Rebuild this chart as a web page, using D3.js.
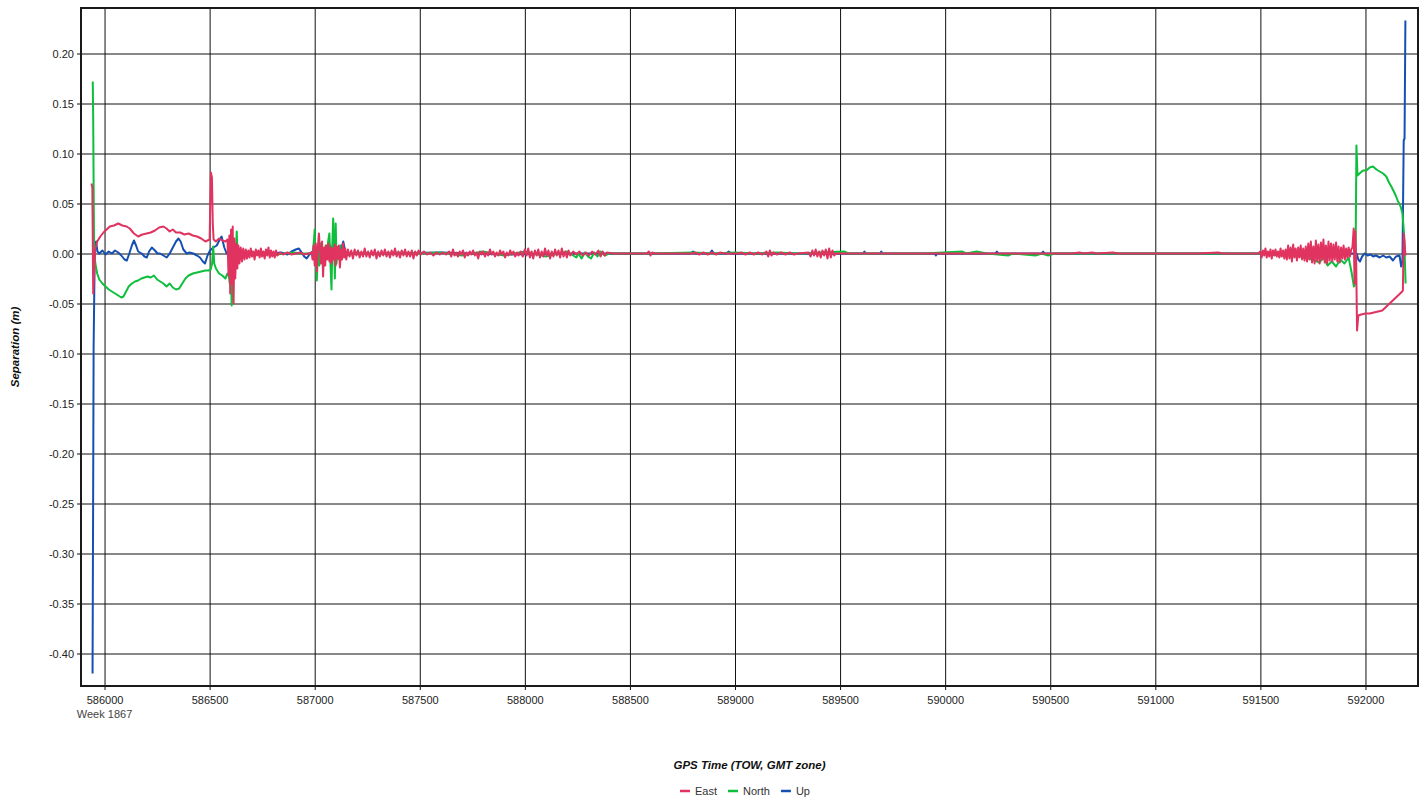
<!DOCTYPE html>
<html>
<head>
<meta charset="utf-8">
<script src="https://cdn.jsdelivr.net/npm/d3@7"></script>
<style>
  body { margin: 0; background: #fff; }
  svg { display: block; font-family: "Liberation Sans", Arial, sans-serif; }
  .tick text { font-size: 11px; fill: #222; }
  .axisTitle { font-size: 11.5px; font-weight: bold; font-style: italic; fill: #111; }
  .legendText { font-size: 11px; fill: #333; }
</style>
</head>
<body>
<div id="chart"></div>
<script>
// series names / colours for the legend
const seriesNames = ["East", "North", "Up"];
const xTicks = [586000, 586500, 587000, 587500, 588000, 588500, 589000, 589500, 590000, 590500, 591000, 591500, 592000];
const yTicks = [-0.40, -0.35, -0.30, -0.25, -0.20, -0.15, -0.10, -0.05, 0.00, 0.05, 0.10, 0.15, 0.20];
const weekLabel = "Week 1867";

// [GPS time (s), separation (m)]
const east = [
  [585938,0.070],[585942,0.066],[585946,-0.040],[585950,-0.022],[585955,0.004],[585965,0.012],[585980,0.017],[585995,0.021],
  [586010,0.024],[586025,0.027],[586045,0.028],[586065,0.030],[586085,0.028],[586105,0.027],[586120,0.025],[586140,0.020],
  [586160,0.017],[586180,0.019],[586200,0.020],[586220,0.021],[586240,0.023],[586260,0.026],[586280,0.027],[586295,0.025],
  [586310,0.022],[586325,0.024],[586340,0.021],[586360,0.021],[586380,0.019],[586400,0.020],[586420,0.018],[586440,0.017],
  [586460,0.015],[586480,0.012],[586500,0.014],[586506,0.081],[586511,0.076],[586515,0.030],[586519,0.014],[586530,0.012],
  [586545,0.015],[586560,0.013],[586575,0.012],[586585,0.014],
  [586590,-0.022],[586594,0.018],[586598,-0.040],[586602,0.024],[586606,-0.030],[586610,0.027],[586614,-0.050],[586618,0.015],
  [586622,-0.025],[586627,0.010],[586632,-0.015],[586637,0.008],[586642,-0.010],[586648,0.006],[586654,-0.008],[586660,0.005],
  [586666,-0.006],[586672,0.004],[586678,-0.005],[586684,0.003],[586690,-0.004],[586696,0.005],[586702,-0.003],[586708,0.002],
  [586714,-0.006],[586720,0.004],[586726,-0.002],[586732,0.003],[586738,-0.004],[586744,0.005],[586750,-0.003],[586756,0.002],
  [586762,-0.005],[586768,0.004],[586774,-0.002],[586780,0.006],[586786,-0.004],[586792,0.003],[586798,-0.003],[586804,0.002],
  [586810,-0.004],[586816,0.003],[586822,-0.002],[586835,0.001],[586850,-0.001],[586870,0.001],[586890,-0.001],[586910,0.000],
  [586930,0.001],[586950,-0.001],[586970,0.000],[586985,0.001],
  [586990,-0.006],[586995,0.008],[587000,-0.012],[587005,0.010],[587010,-0.018],[587015,0.006],[587020,0.020],[587025,0.004],
  [587030,-0.010],[587035,0.012],[587040,-0.023],[587045,0.006],[587050,-0.012],[587055,0.008],[587060,-0.006],[587065,0.010],
  [587070,-0.008],[587075,0.006],[587080,-0.010],[587085,0.005],[587090,-0.006],[587095,0.009],[587100,-0.012],[587105,0.007],
  [587110,-0.005],[587115,0.008],[587120,-0.014],[587125,0.004],[587130,-0.006],[587135,0.010],[587140,-0.004],[587145,0.005],
  [587150,-0.006],[587158,0.004],[587166,-0.003],[587174,0.003],[587182,-0.005],[587190,0.004],[587198,-0.002],[587206,0.003],
  [587214,-0.004],[587222,0.002],[587230,-0.003],[587238,0.005],[587246,-0.003],[587254,0.002],[587262,-0.004],[587270,0.003],
  [587278,-0.002],[587286,0.004],[587294,-0.005],[587302,0.002],[587310,-0.003],[587318,0.003],[587326,-0.002],[587334,0.004],
  [587342,-0.003],[587350,0.002],[587358,-0.004],[587366,0.003],[587374,-0.002],[587382,0.005],[587390,-0.003],[587398,0.002],
  [587406,-0.004],[587414,0.003],[587422,-0.002],[587430,0.004],[587438,-0.003],[587446,0.002],[587454,-0.003],[587462,0.003],
  [587470,-0.005],[587478,0.002],[587486,-0.002],[587494,0.003],
  [587505,-0.001],[587520,0.002],[587535,-0.001],[587550,0.001],[587565,-0.002],[587580,0.001],[587595,-0.001],[587610,0.001],
  [587625,-0.001],[587640,0.002],[587650,-0.003],[587658,0.004],[587666,-0.002],[587674,0.001],[587682,-0.003],[587690,0.002],
  [587698,-0.001],[587706,0.003],[587714,-0.004],[587722,0.001],[587730,-0.002],[587738,0.002],[587746,-0.001],[587754,0.003],
  [587762,-0.002],[587770,0.001],[587778,-0.005],[587786,0.002],[587794,-0.001],[587802,0.002],[587810,-0.003],[587818,0.001],
  [587826,-0.002],[587834,0.004],[587842,-0.001],[587850,0.002],[587858,-0.003],[587866,0.001],[587874,-0.002],[587882,0.003],
  [587890,-0.001],[587898,0.002],[587906,-0.004],[587914,0.001],[587922,-0.002],[587930,0.003],[587938,-0.001],[587946,0.002],
  [587954,-0.003],[587962,0.001],[587970,-0.002],[587980,0.002],[587990,-0.003],[588000,0.004],[588008,-0.002],[588016,0.005],
  [588024,-0.004],[588032,0.002],[588040,-0.005],[588048,0.003],[588056,-0.002],[588064,0.004],[588072,-0.004],[588080,0.002],
  [588088,-0.003],[588096,0.005],[588104,-0.002],[588112,0.003],[588120,-0.005],[588128,0.002],[588136,-0.003],[588144,0.004],
  [588152,-0.002],[588160,0.003],[588168,-0.004],[588176,0.005],[588184,-0.003],[588192,0.002],[588200,-0.004],[588208,0.003],
  [588216,-0.002],[588230,0.002],[588245,-0.001],[588260,0.002],[588275,-0.002],[588290,0.001],[588305,-0.002],[588320,0.002],
  [588335,-0.001],[588350,0.003],[588360,-0.003],[588370,0.002],[588380,-0.002],[588390,0.001],
  [588420,0.000],[588500,0.000],[588580,0.000],[588590,0.002],[588598,-0.002],[588606,0.001],[588620,0.000],[588720,0.000],
  [588800,0.000],[588810,0.001],[588830,-0.001],[588850,0.001],[588870,-0.001],[588890,0.001],[588910,-0.001],[588930,0.001],
  [588950,0.000],[589020,0.000],[589030,0.001],[589050,-0.001],[589070,0.001],[589090,-0.001],[589110,0.001],[589130,-0.001],
  [589150,0.002],[589158,-0.003],[589166,0.003],[589174,-0.002],[589182,0.001],[589200,-0.001],[589220,0.001],[589240,-0.001],
  [589260,0.001],[589280,-0.001],[589300,0.000],[589350,0.001],[589360,-0.003],[589368,0.003],[589376,-0.002],[589384,0.004],
  [589392,-0.003],[589400,0.002],[589408,-0.004],[589416,0.003],[589424,-0.002],[589432,0.004],[589440,-0.005],[589448,0.005],
  [589456,-0.004],[589464,0.003],[589472,-0.002],[589480,0.000],
  [589600,0.000],[589800,0.000],[590000,0.000],[590200,0.000],[590400,0.000],[590600,0.000],[590640,0.001],[590660,0.000],
  [590700,0.001],[590720,0.000],[590800,0.001],[590820,0.000],[591000,0.000],[591200,0.000],[591300,0.001],[591320,0.000],
  [591490,0.000],
  [591500,0.002],[591506,-0.004],[591512,0.003],[591518,-0.002],[591524,0.005],[591530,-0.004],[591536,0.002],[591542,-0.003],
  [591548,0.004],[591554,-0.005],[591560,0.003],[591566,-0.002],[591572,0.004],[591578,-0.003],[591584,0.002],[591590,-0.004],
  [591596,0.005],[591602,-0.003],[591608,0.003],[591614,-0.005],[591620,0.004],[591626,-0.006],[591632,0.008],[591638,-0.005],
  [591644,0.006],[591650,-0.008],[591656,0.009],[591662,-0.004],[591668,0.005],[591674,-0.007],[591680,0.006],[591686,-0.004],
  [591692,0.008],[591698,-0.006],[591704,0.005],[591710,-0.007],[591716,0.007],[591722,-0.008],[591728,0.010],[591734,-0.006],
  [591740,0.012],[591746,-0.009],[591752,0.007],[591758,-0.010],[591764,0.013],[591770,-0.007],[591776,0.009],[591782,-0.010],
  [591788,0.011],[591794,-0.006],[591800,0.014],[591806,-0.009],[591812,0.008],[591818,-0.010],[591824,0.012],[591830,-0.007],
  [591836,0.010],[591842,-0.008],[591848,0.009],[591854,-0.006],[591860,0.011],[591866,-0.008],[591872,0.007],[591878,-0.009],
  [591884,0.006],[591890,-0.005],[591896,0.008],[591902,-0.006],[591908,0.005],[591914,-0.004],[591920,0.006],[591926,-0.003],
  [591932,0.004],[591938,0.006],[591944,0.025],[591948,-0.030],[591952,0.022],[591956,-0.010],[591960,-0.077],[591966,-0.062],
  [591980,-0.061],[592000,-0.060],[592020,-0.060],[592040,-0.059],[592060,-0.058],[592080,-0.057],[592095,-0.054],[592110,-0.051],
  [592125,-0.048],[592140,-0.045],[592155,-0.042],[592170,-0.039],[592178,-0.037],[592182,0.020],[592186,0.012],[592190,-0.002]
];

const north = [
  [585944,0.172],[585946,0.135],[585950,0.010],[585953,-0.005],[585958,-0.012],[585965,-0.020],[585975,-0.026],[585990,-0.030],
  [586005,-0.033],[586020,-0.036],[586035,-0.038],[586050,-0.040],[586065,-0.042],[586080,-0.044],[586090,-0.043],[586100,-0.039],
  [586115,-0.033],[586130,-0.030],[586145,-0.028],[586160,-0.027],[586175,-0.025],[586190,-0.024],[586205,-0.023],[586220,-0.024],
  [586235,-0.022],[586250,-0.026],[586265,-0.028],[586280,-0.030],[586295,-0.033],[586310,-0.030],[586325,-0.034],[586340,-0.036],
  [586355,-0.035],[586370,-0.030],[586385,-0.025],[586400,-0.022],[586420,-0.020],[586440,-0.019],[586460,-0.018],[586480,-0.017],
  [586495,-0.017],[586505,-0.016],[586512,-0.010],[586517,0.007],[586522,-0.010],[586530,-0.015],[586545,-0.020],[586560,-0.022],
  [586575,-0.025],[586585,-0.020],
  [586590,-0.020],[586596,-0.030],[586600,-0.010],[586605,-0.052],[586610,-0.030],[586616,0.005],[586622,-0.015],[586629,0.022],
  [586634,-0.008],[586640,0.004],[586648,-0.005],[586656,0.003],[586664,-0.003],[586700,0.002],[586740,-0.002],[586780,0.001],
  [586820,-0.001],[586860,0.000],[586900,0.001],[586940,0.000],[586975,0.000],
  [586990,0.000],[586996,0.012],[587000,0.024],[587004,-0.005],[587010,-0.027],[587016,0.006],[587022,-0.012],[587028,0.010],
  [587034,-0.008],[587040,0.005],[587046,-0.010],[587052,0.008],[587058,-0.005],[587064,0.012],[587070,0.020],[587075,-0.010],
  [587080,-0.036],[587084,0.010],[587088,0.035],[587092,0.012],[587096,-0.025],[587100,0.030],[587104,-0.010],[587110,0.006],
  [587116,-0.006],[587122,0.008],[587130,-0.004],[587140,0.004],[587150,-0.002],
  [587200,0.001],[587300,-0.001],[587400,0.001],[587500,0.000],[587600,0.001],[587700,-0.002],[587800,0.002],[587900,-0.002],
  [588000,0.002],[588100,-0.003],[588200,0.002],[588230,-0.002],[588245,-0.004],[588255,0.000],[588270,-0.005],[588285,0.001],
  [588300,-0.003],[588315,-0.005],[588330,0.001],[588345,-0.003],[588360,0.002],[588380,-0.002],[588400,0.000],[588600,0.000],
  [588800,0.001],[588900,0.000],[589000,0.001],[589100,0.000],[589200,0.001],[589300,0.000],[589400,0.001],[589520,0.002],
  [589540,0.000],[589700,0.000],[589900,0.000],[590080,0.002],[590100,0.000],[590150,0.002],[590200,0.000],[590300,-0.002],
  [590320,0.000],[590430,-0.002],[590460,0.000],[590490,-0.002],[590520,0.000],[591000,0.000],[591500,0.000],[591600,-0.002],
  [591650,0.003],[591700,-0.004],[591750,-0.006],[591780,-0.009],[591800,-0.004],[591820,-0.012],[591840,-0.008],[591860,-0.013],
  [591880,-0.006],[591900,-0.010],[591920,-0.004],[591935,-0.020],[591945,-0.033],[591952,-0.030],
  [591957,0.108],[591962,0.078],[591972,0.080],[591988,0.083],[592004,0.083],[592020,0.086],[592036,0.087],[592052,0.084],
  [592068,0.082],[592084,0.080],[592099,0.077],[592112,0.071],[592123,0.067],[592135,0.062],[592146,0.057],[592155,0.052],
  [592162,0.050],[592170,0.045],[592176,0.040],[592180,0.030],[592184,0.018],[592188,-0.010],[592191,-0.030]
];

const up = [
  [585943,-0.420],[585946,-0.230],[585948,-0.095],[585951,-0.040],[585954,0.005],[585960,0.012],[585966,0.002],[585975,0.000],
  [585990,0.003],[586005,-0.001],[586020,0.002],[586035,0.000],[586050,0.003],[586065,0.001],[586080,-0.002],[586095,-0.006],
  [586106,-0.007],[586118,0.000],[586130,0.008],[586140,0.013],[586150,0.008],[586160,0.002],[586177,0.000],[586190,-0.003],
  [586201,-0.004],[586212,0.002],[586225,0.006],[586240,0.003],[586252,0.000],[586264,0.000],[586280,-0.002],[586296,-0.004],
  [586310,0.000],[586325,0.006],[586340,0.012],[586352,0.015],[586362,0.012],[586375,0.004],[586391,0.000],[586405,0.001],
  [586422,0.000],[586440,-0.002],[586454,-0.004],[586468,-0.008],[586478,-0.010],[586490,-0.002],[586502,0.003],[586518,0.006],
  [586534,0.008],[586548,0.014],[586557,0.017],[586570,0.006],[586581,0.000],
  [586600,0.002],[586640,-0.002],[586680,0.001],[586720,-0.001],[586760,0.001],[586800,0.000],[586840,0.001],[586870,-0.001],
  [586890,0.002],[586910,0.004],[586925,0.005],[586938,0.001],[586950,-0.003],[586962,-0.005],[586975,-0.001],[586990,0.002],
  [587010,-0.003],[587030,0.004],[587050,-0.004],[587073,0.008],[587090,0.002],[587110,0.006],[587125,0.004],[587136,0.012],
  [587145,0.002],[587160,0.000],[587300,0.000],[587600,0.001],[587900,-0.001],[588200,0.000],[588500,0.000],[588790,0.000],
  [588800,0.002],[588810,0.000],[588880,0.000],[588890,0.003],[588900,0.000],[588960,0.000],[588970,0.002],[588980,0.000],
  [589200,0.000],[589610,0.000],[589616,0.002],[589622,0.000],[589690,0.000],[589696,0.002],[589702,0.000],[589950,0.000],
  [589956,-0.002],[589962,0.000],[590240,0.000],[590246,0.002],[590252,0.000],[590460,0.000],[590466,0.002],[590472,0.000],
  [591000,0.000],[591500,0.000],[591900,0.000],[591950,0.000],
  [591958,0.000],[591966,-0.006],[591974,-0.008],[591984,-0.003],[591996,0.000],[592010,-0.002],[592025,-0.001],[592036,-0.003],
  [592050,-0.002],[592068,-0.004],[592084,-0.002],[592099,-0.004],[592115,-0.003],[592131,-0.007],[592145,-0.003],[592162,-0.002],
  [592170,-0.013],[592176,-0.008],[592182,0.113],[592186,0.115],[592190,0.233]
];

const seriesColors = ["#e0335f", "#0dbf3c", "#1450b2"];

class SeparationChart {

  constructor(_config) {
    this.config = {
      parentElement: _config.parentElement,
      containerWidth: 1426,
      containerHeight: 801,
      margin: {top: 8, right: 8, bottom: 115, left: 81}
    }
    this.initVis();
  }

  initVis() {
    let vis = this;

    vis.width = vis.config.containerWidth - vis.config.margin.left - vis.config.margin.right;
    vis.height = vis.config.containerHeight - vis.config.margin.top - vis.config.margin.bottom;

    vis.svgRoot = d3.select(vis.config.parentElement)
        .append("svg")
        .attr("width", vis.config.containerWidth)
        .attr("height", vis.config.containerHeight);

    vis.svg = vis.svgRoot.append("g")
        .attr("transform", "translate(" + vis.config.margin.left + "," + vis.config.margin.top + ")");

    vis.x = d3.scaleLinear()
        .domain([585888, 592250])
        .range([0, vis.width]);

    vis.y = d3.scaleLinear()
        .domain([-0.4325, 0.2455])
        .range([vis.height, 0]);

    vis.color = d3.scaleOrdinal()
        .domain(seriesNames)
        .range(seriesColors);

    vis.svg.append("clipPath")
        .attr("id", "plotClip")
        .append("rect")
        .attr("width", vis.width)
        .attr("height", vis.height);

    vis.renderVis();
  }

  renderVis() {
    let vis = this;
    const fmt = d => d3.format(".2f")(d).replace("\u2212", "-");

    // grid lines
    vis.svg.append("g")
        .attr("class", "grid")
        .call(d3.axisLeft(vis.y).tickValues(yTicks).tickSize(-vis.width).tickFormat(""))
        .call(g => g.select(".domain").remove())
        .call(g => g.selectAll("line").attr("stroke", "#111"));

    vis.svg.append("g")
        .attr("class", "grid")
        .call(d3.axisBottom(vis.x).tickValues(xTicks).tickSize(vis.height).tickFormat(""))
        .call(g => g.select(".domain").remove())
        .call(g => g.selectAll("line").attr("stroke", "#111"));

    // axes with labels
    vis.svg.append("g")
        .call(d3.axisLeft(vis.y).tickValues(yTicks).tickSize(4).tickPadding(3).tickFormat(fmt))
        .call(g => g.select(".domain").remove())
        .call(g => g.selectAll("line").attr("stroke", "#111"));

    vis.svg.append("g")
        .attr("transform", "translate(0," + vis.height + ")")
        .call(d3.axisBottom(vis.x).tickValues(xTicks).tickSize(4).tickPadding(6).tickFormat(d3.format("d")))
        .call(g => g.select(".domain").remove())
        .call(g => g.selectAll("line").attr("stroke", "#111"));

    vis.svg.append("text")
        .attr("class", "legendText")
        .attr("x", vis.x(xTicks[0]))
        .attr("y", vis.height + 32)
        .attr("text-anchor", "middle")
        .style("fill", "#444")
        .text(weekLabel);

    // series, Up first so East ends on top
    const line = d3.line()
        .x(d => vis.x(d[0]))
        .y(d => vis.y(d[1]));

    const seriesData = [
      {key: "Up", values: up},
      {key: "North", values: north},
      {key: "East", values: east}
    ];

    vis.svg.append("g")
        .attr("clip-path", "url(#plotClip)")
        .selectAll("path.series")
        .data(seriesData)
        .join("path")
        .attr("class", "series")
        .attr("d", d => line(d.values))
        .attr("fill", "none")
        .attr("stroke", d => vis.color(d.key))
        .attr("stroke-width", 2)
        .attr("stroke-linejoin", "round");

    // frame
    vis.svg.append("rect")
        .attr("width", vis.width)
        .attr("height", vis.height)
        .attr("fill", "none")
        .attr("stroke", "#1a1a1a")
        .attr("stroke-width", 2);

    // axis titles
    vis.svgRoot.append("text")
        .attr("class", "axisTitle")
        .attr("transform", "translate(19," + (vis.config.margin.top + vis.height / 2) + ") rotate(-90)")
        .attr("text-anchor", "middle")
        .text("Separation (m)");

    vis.svgRoot.append("text")
        .attr("class", "axisTitle")
        .attr("x", vis.config.margin.left + vis.width / 2)
        .attr("y", 769)
        .attr("text-anchor", "middle")
        .text("GPS Time (TOW, GMT zone)");

    // legend
    const legend = vis.svgRoot.append("g");
    let xPos = 0;
    seriesNames.forEach(name => {
      const item = legend.append("g").attr("transform", "translate(" + xPos + ",0)");
      item.append("line")
          .attr("x1", 0).attr("x2", 10)
          .attr("y1", 0).attr("y2", 0)
          .attr("stroke", vis.color(name))
          .attr("stroke-width", 2.5);
      const label = item.append("text")
          .attr("class", "legendText")
          .attr("x", 15)
          .attr("y", 4)
          .text(name);
      xPos += 15 + label.node().getComputedTextLength() + 11;
    });
    const legendWidth = xPos - 11;
    legend.attr("transform", "translate(" + (745 - legendWidth / 2) + ",791)");
  }
}

new SeparationChart({parentElement: "#chart"});
</script>
</body>
</html>
